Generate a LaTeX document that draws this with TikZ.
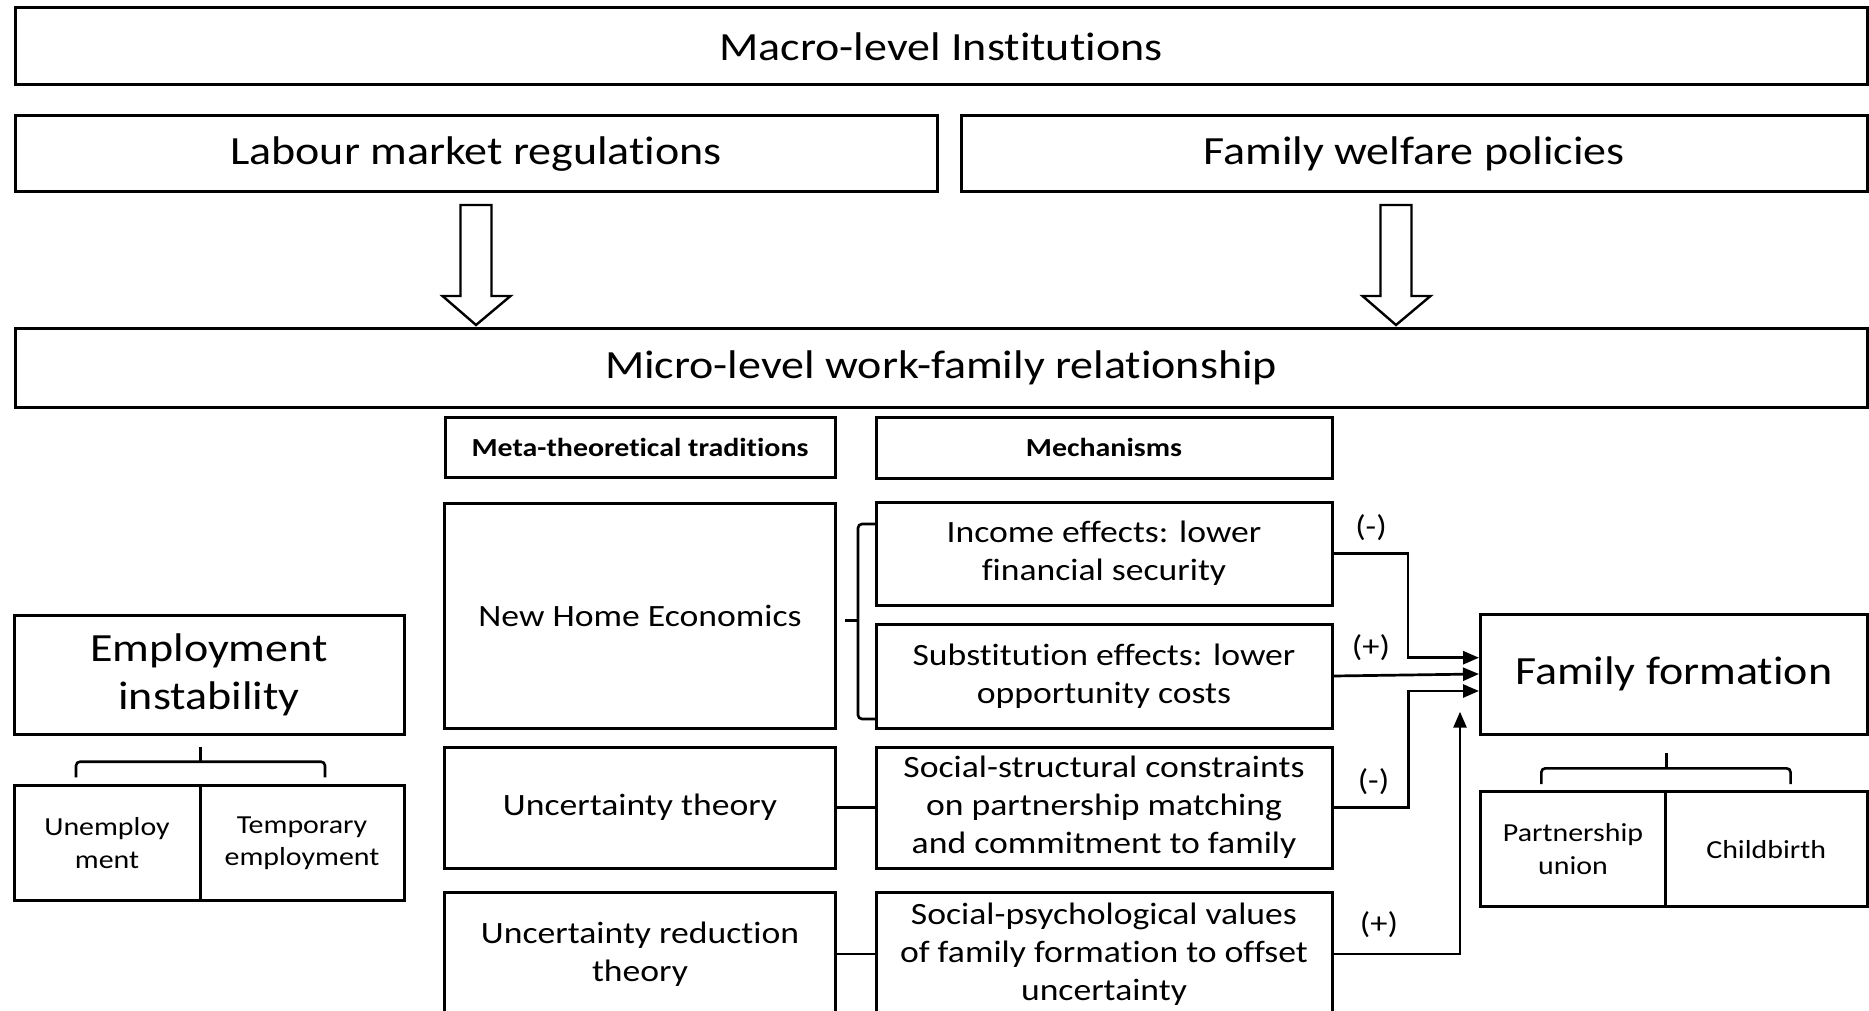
\documentclass[tikz,border=0pt]{standalone}
\usepackage{fontspec}
\setmainfont{Carlito}[FakeStretch=1.15, RawFeature={-liga;-clig;-dlig;-hlig;-calt}]
\usetikzlibrary{arrows.meta}

\newcommand\fsBig{\fontsize{40}{48}\selectfont}
\newcommand\fsMid{\fontsize{31}{38}\selectfont}
\newcommand\fsSmall{\fontsize{26}{32.3}\selectfont}
\newcommand\fsHead{\fontsize{26}{30}\selectfont\bfseries}
\newcommand\fsSign{\fontsize{30}{34}\selectfont}

\begin{document}
\begin{tikzpicture}[x=1pt,y=-1pt,
  box/.style={draw, line width=3pt, inner sep=0pt, align=center},
  conn/.style={line width=2.7pt},
  tip/.style={-{Triangle[length=16pt,width=13pt]}},
  blockarrow/.style={draw, line width=2.4pt, fill=white, line join=miter},
  bracket/.style={line width=2.6pt, rounded corners=4pt},
  sign/.style={inner sep=0pt, font=\fsSign}]

\fill[white] (0,0) rectangle (1869,1011);
\useasboundingbox (0,0) rectangle (1869,1011);
\clip (0,0) rectangle (1869,1011);

% macro and meso levels
\node[box, minimum width=1852pt, minimum height=77pt, font=\fsBig] (macro) at (941,46.5) {Macro-level Institutions};
\node[box, minimum width=922pt, minimum height=76pt, font=\fsBig] (labour) at (476,154) {Labour market regulations};
\node[box, minimum width=906pt, minimum height=76pt, font=\fsBig] (welfare) at (1414,154) {Family welfare policies};
\node[box, minimum width=1852pt, minimum height=79pt, font=\fsBig] (micro) at (941,367.5) {Micro-level work-family relationship};

% block arrows from the institutions down to the micro level
\path[blockarrow, shift={(476,205)}] (-15.5,0) -- (15.5,0) -- (15.5,91) -- (34.5,91) -- (0,120) -- (-33.5,91) -- (-15.5,91) -- cycle;
\path[blockarrow, shift={(1396,205)}] (-15.5,0) -- (15.5,0) -- (15.5,91) -- (34.5,91) -- (0,120) -- (-33.5,91) -- (-15.5,91) -- cycle;

% column headers
\node[box, minimum width=390pt, minimum height=60pt, font=\fsHead] (meta) at (640,447) {Meta-theoretical traditions};
\node[box, minimum width=456pt, minimum height=61pt, font=\fsHead] (mech) at (1104,447.5) {Mechanisms};

% theories
\node[box, minimum width=391pt, minimum height=225pt, font=\fsMid] (nhe) at (640,615.5) {New Home Economics};
\node[box, minimum width=391pt, minimum height=121pt, font=\fsMid] (unc) at (640,807.5) {Uncertainty theory};
\node[box, minimum width=391pt, minimum height=124pt, font=\fsMid] (uncred) at (640,954) {Uncertainty reduction\\theory};

% mechanisms
\node[box, minimum width=456pt, minimum height=103pt, font=\fsMid] (income) at (1104,553.5) {Income effects: lower\\financial security};
\node[box, minimum width=456pt, minimum height=104pt, font=\fsMid] (subst) at (1104,676) {Substitution effects: lower\\opportunity costs};
\node[box, minimum width=456pt, minimum height=121pt, font=\fsMid] (socstruct) at (1104,807.5) {Social-structural constraints\\on partnership matching\\and commitment to family};
\node[box, minimum width=456pt, minimum height=124pt, font=\fsMid] (socpsych) at (1104,954) {Social-psychological values\\of family formation to offset\\uncertainty};

% employment instability
\node[box, minimum width=390pt, minimum height=119pt, font=\fsBig] (emp) at (209,674.5) {Employment\\instability};
\node[box, minimum width=186pt, minimum height=115.7pt, font=\fsSmall] (unemp) at (107,843) {Unemploy\\ment};
\node[box, minimum width=204pt, minimum height=115.7pt, font=\fsSmall] (temp) at (302,843) {Temporary\\employment};

% family formation
\node[box, minimum width=386.5pt, minimum height=120pt, font=\fsBig] (ff) at (1673.75,674) {Family formation};
\node[box, minimum width=185pt, minimum height=115pt, font=\fsSmall] (union) at (1573,849.2) {Partnership\\union};
\node[box, minimum width=201.6pt, minimum height=115pt, font=\fsSmall] (birth) at (1766.2,849.2) {Childbirth};

% brackets
\draw[bracket] (875,524) -- (858,524) -- (858,719) -- (875,719);
\draw[line width=2.6pt] (858,620.7) -- (845,620.7);
\draw[bracket] (76,777.3) -- (76,761.7) -- (325,761.7) -- (325,777.3);
\draw[line width=2.6pt] (200.7,761.7) -- (200.7,746.7);
\draw[bracket] (1541.3,784) -- (1541.3,768.3) -- (1790.6,768.3) -- (1790.6,784);
\draw[line width=2.6pt] (1666.5,768.3) -- (1666.5,753.3);

% links between theories and mechanisms
\draw[conn] (unc.east) -- (socstruct.west);
\draw[conn] (uncred.east) -- (socpsych.west);

% effects on family formation
\coordinate (ffin) at (1460,711.7);
\draw[conn, tip] (income.east) -- ++(74.5,0) |- ([yshift=16.3pt]ff.west);
\draw[conn, tip] (subst.east) -- (ff.west);
\draw[conn, tip] (socstruct.east) -- ++(75.3,0) |- ([yshift=-17pt]ff.west);
\draw[conn, tip] (socpsych.east) -| (ffin);

\node[sign] (s1) at (1371,528) {(-)};
\node[sign] (s2) at (1371,648) {(+)};
\node[sign] (s3) at (1373.5,781.7) {(-)};
\node[sign] (s4) at (1379,925) {(+)};

\end{tikzpicture}
\end{document}
